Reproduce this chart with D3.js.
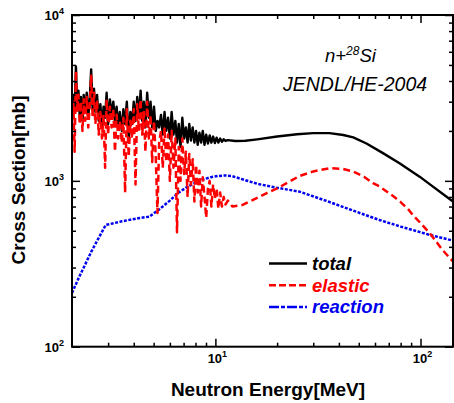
<!DOCTYPE html>
<html>
<head>
<meta charset="utf-8">
<script src="https://cdn.jsdelivr.net/npm/d3@7"></script>
<style>
  body { margin: 0; background: #fff; }
  svg { display: block; }
  text { font-family: "Liberation Sans", Arial, Helvetica, sans-serif; }
</style>
</head>
<body>
<svg id="chart" width="454" height="403"></svg>
<script>
// resonance region (MeV), shared by total and elastic
const resEnergy = [2.00, 2.03, 2.06, 2.09, 2.12, 2.15, 2.18, 2.21, 2.25, 2.28,
  2.32, 2.36, 2.40, 2.44, 2.48, 2.52, 2.56, 2.60, 2.65, 2.70,
  2.75, 2.80, 2.85, 2.90, 2.95, 3.00, 3.06, 3.12, 3.18, 3.24,
  3.30, 3.36, 3.42, 3.50, 3.56, 3.63, 3.70, 3.78, 3.85, 3.92,
  4.00, 4.08, 4.16, 4.24, 4.32, 4.40, 4.48, 4.56, 4.65, 4.74,
  4.83, 4.92, 5.02, 5.12, 5.22, 5.32, 5.43, 5.54, 5.65, 5.76,
  5.88, 6.00, 6.12, 6.25, 6.38, 6.50, 6.63, 6.76, 6.90, 7.04,
  7.18, 7.32, 7.46, 7.60, 7.75, 7.90, 8.05, 8.20, 8.36, 8.52,
  8.68, 8.85, 9.02, 9.20, 9.38, 9.56, 9.75, 9.94, 10.14, 10.34,
  10.55, 10.76, 10.98, 11.2, 11.5];
const resTotal = [2400, 3300, 2600, 4900, 2900, 3500, 2500, 3200, 2300, 3300,
  2600, 3400, 2400, 3100, 4700, 2700, 3600, 2600, 3300, 2300,
  2900, 2100, 2800, 2400, 3400, 2200, 3100, 2500, 3000, 2300,
  2800, 2100, 2600, 2000, 2700, 2200, 3000, 1800, 2600, 2200,
  3000, 2300, 3200, 2400, 3500, 2300, 3000, 2100, 3400, 2400,
  3000, 2100, 2800, 2000, 2300, 2100, 2500, 1900, 2600, 2000,
  2400, 1800, 2600, 1900, 2300, 1700, 2200, 1600, 2400, 1800,
  2100, 1700, 2200, 1750, 2100, 1700, 2000, 1650, 1950, 1700,
  2000, 1650, 1900, 1680, 1880, 1700, 1850, 1690, 1820, 1700,
  1800, 1720, 1780, 1740, 1760];
const resElastic = [2200, 3000, 1500, 4600, 2600, 3300, 2200, 3000, 2000, 3100,
  2300, 3200, 2100, 2800, 4300, 2400, 3400, 2200, 3000, 1900,
  2600, 1800, 2500, 1200, 3100, 1900, 2800, 2100, 2700, 1500,
  2500, 1800, 2300, 1700, 2400, 850, 2700, 1400, 2300, 1800,
  2700, 950, 2900, 2000, 3100, 1900, 2600, 1500, 3000, 1800,
  2500, 1300, 2300, 1400, 640, 1700, 2000, 1200, 2100, 1300,
  1900, 1000, 2000, 1200, 1800, 490, 1600, 1000, 1800, 1100,
  1500, 800, 1450, 950, 1350, 750, 1250, 850, 1150, 700,
  1050, 800, 600, 900, 1000, 700, 950, 780, 900, 680,
  850, 700, 800, 720, 760];

// smooth part above the resonances [MeV, mb]
const totalSmooth = [[12.5, 1740], [14, 1745], [16, 1780], [20, 1850], [25, 1910],
  [30, 1940], [36, 1940], [42, 1890], [47, 1830], [54.5, 1680], [65, 1480],
  [79, 1276], [99, 1060], [115, 923], [130, 824], [144, 750]];
const elasticSmooth = [[12.1, 700], [13.5, 715], [15, 760], [17.7, 841], [20, 900],
  [25.7, 1070], [30, 1140], [36, 1192], [42, 1180], [47, 1137], [53, 1060],
  [58.7, 968], [63.3, 923], [73.5, 810], [80, 745], [87, 675], [92, 620],
  [100, 556], [111, 483], [128, 383], [144, 326]];
const reaction = [[2.0, 211], [2.17, 264], [2.5, 380], [2.92, 542], [3.5, 570],
  [4.2, 595], [4.76, 608], [5.3, 670], [6.0, 760], [6.54, 841], [7.2, 910],
  [7.9, 968], [8.6, 1015], [9.5, 1052], [10.3, 1070], [11.1, 1078], [12, 1070],
  [13.9, 1012], [16, 960], [19.8, 910], [25.7, 861], [35, 755], [45, 674],
  [63, 581], [80, 530], [100, 490], [111, 472], [144, 436]];

const xMajor = [10, 100];
const xMinor = [3, 4, 5, 6, 7, 8, 9, 20, 30, 40, 50, 60, 70, 80, 90];
const yMajor = [100, 1000, 10000];
const yMinor = [200, 300, 400, 500, 600, 700, 800, 900,
  2000, 3000, 4000, 5000, 6000, 7000, 8000, 9000];

const series = [
  { name: "total", color: "#000000", width: 2.4, dash: null, legendDash: null,
    data: resEnergy.map((e, i) => [e, resTotal[i]]).concat(totalSmooth) },
  { name: "elastic", color: "#ff0000", width: 2.5, dash: "7,4", legendDash: "7,3",
    data: resEnergy.map((e, i) => [e, resElastic[i]]).concat(elasticSmooth) },
  { name: "reaction", color: "#0000ee", width: 2.5, dash: "3,1.5", legendDash: "10,2,4,2",
    data: reaction }
];

var margin = {top: 15, right: 1, bottom: 56.3, left: 72},
    width = 454 - margin.left - margin.right,
    height = 403 - margin.top - margin.bottom;

var svg = d3.select("#chart");
var g = svg.append("g")
    .attr("transform", "translate(" + margin.left + "," + margin.top + ")");

var x = d3.scaleLog().domain([2, 144]).range([0, width]);
var y = d3.scaleLog().domain([100, 10000]).range([height, 0]);

g.append("clipPath").attr("id", "clip")
  .append("rect").attr("width", width).attr("height", height);

// curves
var line = d3.line()
    .x(function(d) { return x(d[0]); })
    .y(function(d) { return y(d[1]); });

var plot = g.append("g").attr("clip-path", "url(#clip)");
// reaction first, then total, elastic on top
[series[2], series[0], series[1]].forEach(function(s) {
  plot.append("path")
    .datum(s.data)
    .attr("fill", "none")
    .attr("stroke", s.color)
    .attr("stroke-width", s.width)
    .attr("stroke-linejoin", "round")
    .attr("stroke-dasharray", s.dash)
    .attr("d", line);
});

// inward ticks on all four sides
function ticks(axis, vals, size, tr) {
  var a = g.append("g").attr("transform", tr)
    .call(axis.tickValues(vals).tickSize(-size).tickFormat(""));
  a.select(".domain").remove();
  a.selectAll("line").attr("stroke", "#000").attr("stroke-width", 1.5);
}
ticks(d3.axisBottom(x), xMajor, 8, "translate(0," + height + ")");
ticks(d3.axisBottom(x), xMinor, 4, "translate(0," + height + ")");
ticks(d3.axisTop(x), xMajor, 8, "translate(0,0)");
ticks(d3.axisTop(x), xMinor, 4, "translate(0,0)");
ticks(d3.axisLeft(y), yMajor, 8, "translate(0,0)");
ticks(d3.axisLeft(y), yMinor, 4, "translate(0,0)");
ticks(d3.axisRight(y), yMajor, 8, "translate(" + width + ",0)");
ticks(d3.axisRight(y), yMinor, 4, "translate(" + width + ",0)");

// frame
g.append("rect")
  .attr("width", width).attr("height", height)
  .attr("fill", "none").attr("stroke", "#000").attr("stroke-width", 2);

// tick labels 10^n
function power(sel, v) {
  sel.append("tspan").text("10");
  sel.append("tspan").attr("font-size", 9).attr("dy", -6)
    .text(Math.round(Math.log10(v)));
}
xMajor.forEach(function(v) {
  var t = g.append("text")
    .attr("x", x(v) + 2).attr("y", height + 16)
    .attr("text-anchor", "middle")
    .attr("font-size", 13).attr("font-weight", "bold");
  power(t, v);
});
yMajor.forEach(function(v) {
  var t = g.append("text")
    .attr("x", -8).attr("y", y(v) + 5)
    .attr("text-anchor", "end")
    .attr("font-size", 13).attr("font-weight", "bold");
  power(t, v);
});

// axis titles
svg.append("text")
  .attr("x", 268).attr("y", 396)
  .attr("text-anchor", "middle")
  .attr("font-size", 19).attr("font-weight", "bold")
  .text("Neutron Energy[MeV]");
svg.append("text")
  .attr("transform", "translate(25,180) rotate(-90)")
  .attr("text-anchor", "middle")
  .attr("font-size", 19).attr("font-weight", "bold")
  .text("Cross Section[mb]");

// annotation
var note = svg.append("text")
  .attr("x", 325).attr("y", 62)
  .attr("font-size", 18.5).attr("font-style", "italic");
note.append("tspan").text("n+");
note.append("tspan").attr("font-size", 12).attr("dy", -7).text("28");
note.append("tspan").attr("dy", 7).text("Si");
svg.append("text")
  .attr("x", 283).attr("y", 91)
  .attr("font-size", 19.5).attr("font-style", "italic")
  .text("JENDL/HE-2004");

// legend
var legend = svg.append("g");
series.forEach(function(s, i) {
  var ly = 263.5 + i * 21.7;
  legend.append("line")
    .attr("x1", 269).attr("x2", 307).attr("y1", ly).attr("y2", ly)
    .attr("stroke", s.color).attr("stroke-width", 2.5)
    .attr("stroke-dasharray", s.legendDash);
  legend.append("text")
    .attr("x", 312).attr("y", ly + 6.5)
    .attr("fill", s.color)
    .attr("font-size", 18.5).attr("font-weight", "bold").attr("font-style", "italic")
    .text(s.name);
});
</script>
</body>
</html>
